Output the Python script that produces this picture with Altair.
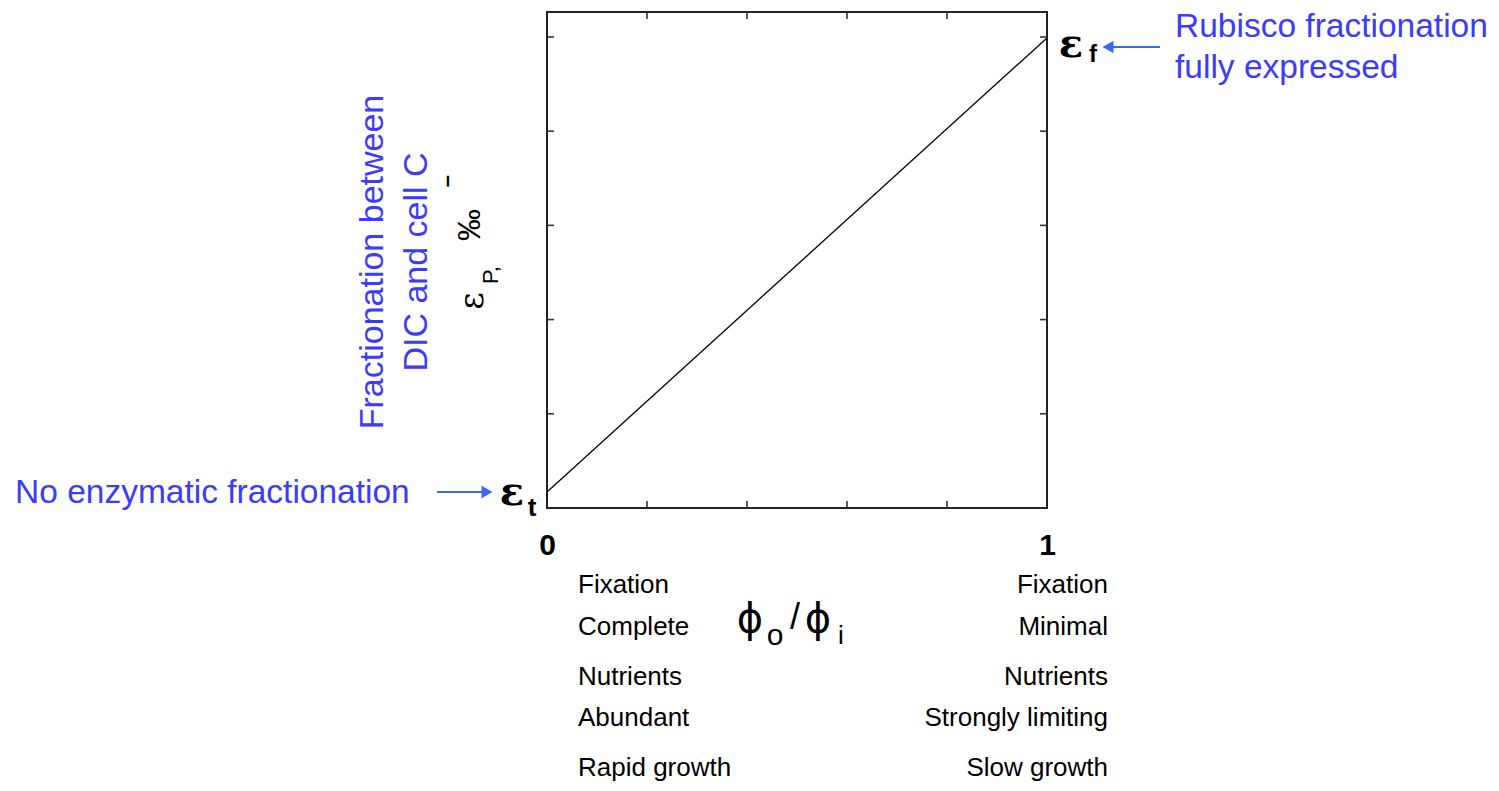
import altair as alt
import pandas as pd

# ---- data ----
phi_ratio = [0.0, 1.0]          # phi_o / phi_i
eps_p = [0.17, 4.99]            # epsilon_P (relative units between eps_t and eps_f)
x_tick_vals = [0.2, 0.4, 0.6, 0.8]
y_tick_vals = [1, 2, 3, 4, 5]
x_label_vals = [0, 1]

left_notes = ["Fixation", "Complete", "Nutrients", "Abundant", "Rapid growth"]
right_notes = ["Fixation", "Minimal", "Nutrients", "Strongly limiting", "Slow growth"]

# ---- layout ----
W, H = 500, 496
BLUE = "#3b3bff"
ARROW = "#3a66ff"
SANS = "Liberation Sans"
SERIF = "DejaVu Serif"

xs = alt.Scale(domain=[0, 1], nice=False, zero=False)
ys = alt.Scale(domain=[0, 5.265], nice=False, zero=False)
xaxis = alt.Axis(values=x_label_vals, format="d", ticks=False, domain=False, grid=False,
                 labelFontSize=30, labelFont=SANS, labelFontWeight="bold",
                 labelColor="black", labelPadding=22, labelFlush=False, title=None)
X = alt.X("x:Q", scale=xs, axis=xaxis)
Y = alt.Y("y:Q", scale=ys, axis=None)

line = alt.Chart(pd.DataFrame({"x": phi_ratio, "y": eps_p})).mark_line(
    color="black", strokeWidth=1.3).encode(x=X, y=Y)

xt = pd.DataFrame({"x": x_tick_vals})
yt = pd.DataFrame({"y": y_tick_vals})
tick_style = dict(color="#333", strokeWidth=1.6)
ticks = [
    alt.Chart(xt).mark_rule(**tick_style).encode(x=X, y=alt.value(H), y2=alt.value(H - 7)),
    alt.Chart(xt).mark_rule(**tick_style).encode(x=X, y=alt.value(0), y2=alt.value(7)),
    alt.Chart(yt).mark_rule(**tick_style).encode(y=Y, x=alt.value(0), x2=alt.value(7)),
    alt.Chart(yt).mark_rule(**tick_style).encode(y=Y, x=alt.value(W - 7), x2=alt.value(W)),
]


def label(text, x, y, size, color="black", font=SANS, align="center",
          baseline="middle", angle=0, weight="normal", line_height=None):
    kw = dict(fontSize=size, color=color, font=font, align=align,
              baseline=baseline, angle=angle, fontWeight=weight, lineBreak="\n")
    if line_height:
        kw["lineHeight"] = line_height
    return alt.Chart(alt.Data(values=[{"t": text}])).mark_text(**kw).encode(
        x=alt.value(x), y=alt.value(y), text="t:N")


def arrow(x1, x2, y, shape):
    r = alt.Chart(alt.Data(values=[{"a": 1}])).mark_rule(color=ARROW, strokeWidth=2).encode(
        x=alt.value(x1), x2=alt.value(x2), y=alt.value(y))
    p = alt.Chart(alt.Data(values=[{"a": 1}])).mark_point(
        shape=shape, filled=True, color=ARROW, size=160, opacity=1).encode(
        x=alt.value(x2), y=alt.value(y))
    return [r, p]


texts = []
# epsilon labels
texts.append(label("ε", -35, 481, 40, font=SERIF, weight="bold"))
texts.append(label("t", -15, 496, 26, weight="bold"))
texts.append(label("ε", 524, 33, 40, font=SERIF, weight="bold"))
texts.append(label("f", 546, 43, 24, weight="bold"))

# blue annotations
texts.append(label("No enzymatic fractionation", -532, 481, 33.5, color=BLUE, align="left"))
texts.append(label("Rubisco fractionation\nfully expressed", 628, 15, 33.5, color=BLUE,
                   align="left", baseline="middle", line_height=41))
texts.append(label("Fractionation between\nDIC and cell C", -174, 250, 34, color=BLUE,
                   angle=270, line_height=44))

# y title eps_P, permil (rotated)
texts.append(label("ε", -74, 289, 34, font=SERIF, angle=270))
texts.append(label("P,", -56, 263, 22, angle=270))
texts.append(label("‰", -77, 213, 32, angle=270))
texts.append(label("–", -100, 169, 22, angle=270, weight="bold"))

# x title phi_o/phi_i
texts.append(label("ϕ", 203, 608, 40, font="DejaVu Sans"))
texts.append(label("o", 228, 624, 30))
texts.append(label("/", 248, 606, 36))
texts.append(label("ϕ", 271, 608, 40, font="DejaVu Sans"))
texts.append(label("i", 294, 624, 26))

# condition notes
ys_notes = [573, 615, 665, 706, 756]
for txt, yy in zip(left_notes, ys_notes):
    texts.append(label(txt, 31, yy, 26, align="left"))
for txt, yy in zip(right_notes, ys_notes):
    texts.append(label(txt, 561, yy, 26, align="right"))

arrows = arrow(-110, -60, 480, "triangle-right") + arrow(613, 561, 35, "triangle-left")

chart = alt.layer(line, *ticks, *texts, *arrows).properties(
    width=W, height=H,
    autosize=alt.AutoSizeParams(type="none"),
    padding={"left": 539, "top": 4, "right": 440, "bottom": 275},
).configure_view(stroke="#222", strokeWidth=2)

chart.save("out.html", embed_options={"renderer": "svg", "actions": False})
